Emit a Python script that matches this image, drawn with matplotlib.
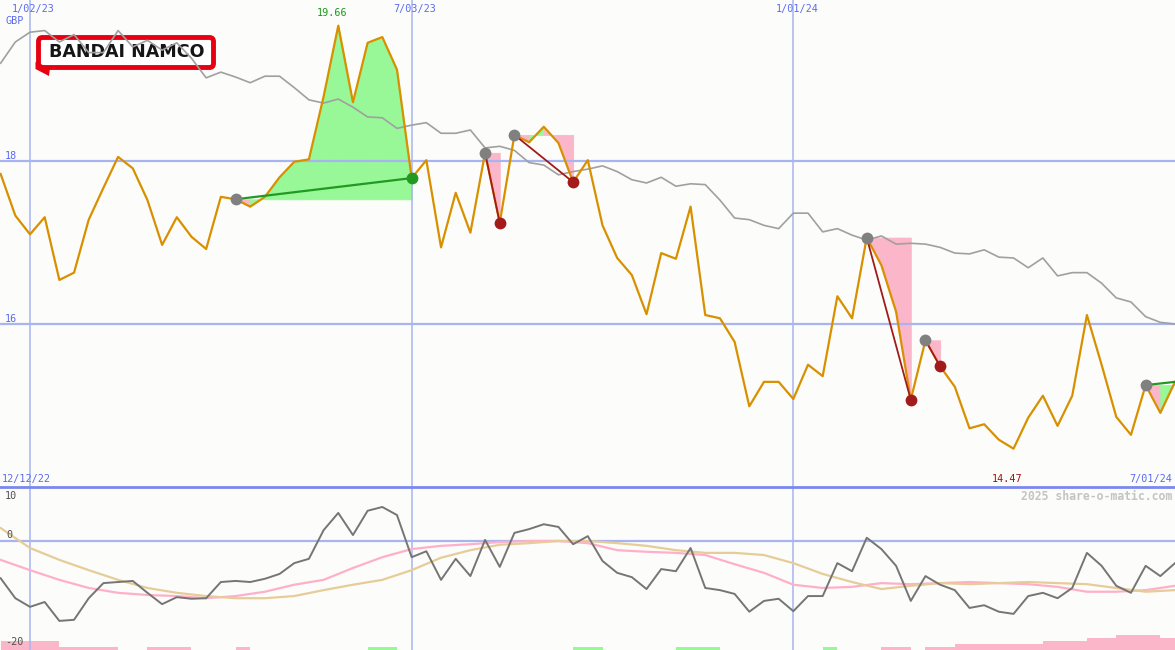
import numpy as np
import matplotlib
matplotlib.use('Agg')
import matplotlib.pyplot as plt
from matplotlib.patches import FancyBboxPatch, Polygon
from matplotlib.transforms import blended_transform_factory

# weekly points, week 0 = Mon 2 Jan 2023
weeks = np.arange(-2, 79)

close = [17.84, 17.33, 17.10, 17.31, 16.54, 16.63, 17.28, 17.67, 18.05, 17.91,
         17.52, 16.97, 17.31, 17.07, 16.92, 17.56, 17.53, 17.44, 17.56, 17.80,
         17.99, 18.02, 18.79, 19.66, 18.72, 19.45, 19.52, 19.12, 17.79, 18.01,
         16.94, 17.61, 17.12, 18.10, 17.24, 18.32, 18.23, 18.42, 18.22, 17.74,
         18.01, 17.21, 16.81, 16.60, 16.12, 16.87, 16.80, 17.44, 16.11, 16.07,
         15.78, 14.99, 15.29, 15.29, 15.08, 15.50, 15.36, 16.34, 16.07, 17.06,
         16.72, 16.15, 15.07, 15.80, 15.48, 15.23, 14.72, 14.77, 14.58, 14.47,
         14.85, 15.12, 14.75, 15.12, 16.11, 15.50, 14.86, 14.64, 15.25, 14.91,
         15.29]

avg = [19.20, 19.46, 19.58, 19.60, 19.46, 19.55, 19.33, 19.33, 19.60, 19.40,
       19.48, 19.36, 19.45, 19.26, 19.02, 19.09, 19.03, 18.96, 19.04, 19.04,
       18.90, 18.75, 18.71, 18.76, 18.66, 18.54, 18.53, 18.40, 18.44, 18.47,
       18.34, 18.34, 18.38, 18.16, 18.18, 18.13, 17.98, 17.95, 17.83, 17.87,
       17.90, 17.94, 17.87, 17.77, 17.73, 17.80, 17.69, 17.72, 17.71, 17.52,
       17.30, 17.28, 17.21, 17.17, 17.36, 17.36, 17.13, 17.17, 17.09, 17.03,
       17.08, 16.98, 16.99, 16.98, 16.94, 16.87, 16.86, 16.91, 16.82, 16.81,
       16.69, 16.81, 16.59, 16.63, 16.63, 16.50, 16.32, 16.27, 16.09, 16.02,
       16.00]

osc = [-6.9, -10.6, -12.2, -11.3, -14.8, -14.6, -10.6, -7.8, -7.6, -7.4,
       -9.6, -11.7, -10.4, -10.7, -10.6, -7.6, -7.4, -7.6, -7.0, -6.1,
       -4.1, -3.3, 2.0, 5.2, 1.1, 5.6, 6.3, 4.8, -3.0, -1.9,
       -7.2, -3.3, -6.5, 0.2, -4.8, 1.5, 2.2, 3.1, 2.6, -0.6,
       0.9, -3.7, -5.9, -6.7, -8.9, -5.2, -5.6, -1.3, -8.7, -9.1,
       -9.8, -13.1, -11.1, -10.7, -13.0, -10.2, -10.2, -4.1, -5.6, 0.6,
       -1.5, -4.6, -11.1, -6.5, -8.1, -9.1, -12.4, -11.9, -13.1, -13.5,
       -10.2, -9.6, -10.6, -8.7, -2.2, -4.6, -8.3, -9.6, -4.6, -6.5,
       -4.1]

# slower lines of the lower panel, read every second week
weeks2 = np.arange(-2, 79, 2)
osc_fast = [-3.5, -5.4, -7.2, -8.7, -9.6, -10.0, -10.2, -10.6, -10.2, -9.4,
            -8.1, -7.2, -5.0, -3.0, -1.5, -0.9, -0.6, -0.2, 0.0, 0.0,
            -0.4, -1.7, -2.0, -2.2, -2.6, -4.3, -5.9, -8.1, -8.7, -8.5,
            -7.8, -8.0, -7.8, -7.6, -7.8, -8.0, -8.5, -9.4, -9.4, -9.1,
            -8.3]
osc_slow = [2.4, -1.3, -3.5, -5.4, -7.2, -8.7, -9.6, -10.2, -10.6, -10.6,
            -10.2, -9.1, -8.1, -7.2, -5.4, -3.1, -1.7, -0.7, -0.4, 0.0,
            0.0, -0.4, -0.9, -1.7, -2.2, -2.2, -2.6, -4.1, -6.1, -7.6,
            -8.9, -8.3, -7.8, -8.0, -7.8, -7.6, -7.8, -8.0, -8.7, -9.4,
            -9.1]

# weekly bars along the bottom (positive green, negative pink)
bars = [-1.67, -1.67, -1.67, -1.67, -0.55, -0.55, -0.55, -0.55, 0, 0,
        -0.55, -0.55, -0.55, 0, 0, 0, -0.55, 0, 0, 0,
        0, 0, 0, 0, 0, 0.55, 0.55, 0, 0, 0,
        0, 0, 0, 0, 0, 0, 0, 0, 0, 0.55,
        0.55, 0, 0, 0, 0, 0, 0.55, 0.55, 0.55, 0,
        0, 0, 0, 0, 0, 0, 0.55, 0, 0, 0,
        -0.55, -0.55, 0, -0.55, -0.55, -1.1, -1.1, -1.1, -1.1, -1.1,
        -1.1, -1.67, -1.67, -1.67, -2.2, -2.2, -2.8, -2.8, -2.8, -2.2]

# trend signals (start week, end week, direction, finished)
sig_start = [14, 31, 33, 57, 61, 76]
sig_end = [26, 32, 37, 60, 62, 78]
sig_up = [True, False, False, False, False, True]
sig_done = [True, True, True, True, True, False]

grid_weeks = [0, 26, 52]
grid_labels = ['1/02/23', '7/03/23', '1/01/24']

bg = '#fcfdfa'
blue_txt = '#5a6af0'
grid_col = '#a8b4f0'
orange = '#d99000'
pink_fill = '#fbb6c9'
green_fill = '#98f898'
dk_red = '#a31a1a'
dk_green = '#229a22'
mono = 'DejaVu Sans Mono'

fig = plt.figure(figsize=(11.75, 6.5), dpi=100, facecolor=bg)

# logo layer, under the chart lines
ov = fig.add_axes([0, 0, 1, 1], zorder=0)
ov.set_xlim(0, 1175)
ov.set_ylim(650, 0)
ov.axis('off')

ax = fig.add_axes([0, 163 / 650, 1, 487 / 650], zorder=1)
ax2 = fig.add_axes([0, 0, 1, 163 / 650], zorder=1)
for a in (ax, ax2):
    a.patch.set_alpha(0)
    for sp in a.spines.values():
        sp.set_visible(False)
    a.set_xticks([])
    a.set_yticks([])
    a.set_xlim(-2.044, 78.0)
    for w in grid_weeks:
        a.axvline(w, color=grid_col, lw=1.1, zorder=1.5)
ax.set_ylim(14.0, 19.975)
ax2.set_ylim(-20.19, 10.0)

# text layer, over everything
top = fig.add_axes([0, 0, 1, 1], zorder=3)
top.set_xlim(0, 1175)
top.set_ylim(650, 0)
top.axis('off')

# logo
ov.add_patch(FancyBboxPatch((38.5, 37.5), 175, 30,
                            boxstyle='round,pad=0,rounding_size=4',
                            fc='white', ec='#e60012', lw=3.5))
ov.add_patch(Polygon([(35.5, 62), (35.5, 69), (49, 76), (50, 68)],
                     closed=True, fc='#e60012', ec='none'))
ov.text(126.5, 52, 'BANDAI NAMCO', ha='center', va='center', fontsize=12.6,
        fontweight='bold', family='DejaVu Sans', color='#151515')

# upper panel
for lvl in (18, 16):
    ax.axhline(lvl, color=grid_col, lw=1.6, zorder=1.5)

close_a = np.array(close)
for s, e, up, done in zip(sig_start, sig_end, sig_up, sig_done):
    i0, i1 = s + 2, e + 2
    lvl = close_a[i0]
    for i in range(i0, i1):
        col = green_fill if close_a[i + 1] >= lvl else pink_fill
        ax.fill_between(weeks[i:i + 2], close_a[i:i + 2], lvl, fc=col, ec=col,
                        lw=0.6, zorder=1)
    ax.plot([s, e], [close_a[i0], close_a[i1]], color=dk_green if up else dk_red,
            lw=1.6 if up else 1.3, zorder=4)

ax.plot(weeks, avg, color='#a0a0a0', lw=1.2, zorder=2)
ax.plot(weeks, close, color=orange, lw=1.6, zorder=3)

for s, e, up, done in zip(sig_start, sig_end, sig_up, sig_done):
    ax.plot(s, close_a[s + 2], 'o', color='#808080', ms=8.5, mec='none', zorder=5)
    if done:
        ax.plot(e, close_a[e + 2], 'o', color=dk_green if up else dk_red,
                ms=8.5, mec='none', zorder=5)

i_max = int(np.argmax(close_a))
i_min = int(np.argmin(close_a))
ax.annotate(f'{close_a[i_max]:.2f}', xy=(weeks[i_max], close_a[i_max]),
            xytext=(-6, 8), textcoords='offset pixels', ha='center',
            va='bottom', fontsize=7.3, family=mono, color='#1a9a1a')
tr = blended_transform_factory(ax.transData, ax.transAxes)
ax.text(weeks[i_min] - 0.45, 8 / 487, f'{close_a[i_min]:.2f}', transform=tr,
        ha='center', va='center', fontsize=7.3, family=mono, color='#a01010')
for w, lab in zip(grid_weeks, grid_labels):
    ax.text(w + 0.24, 1 - 9 / 487, lab, transform=tr, ha='center', va='center',
            fontsize=7.3, family=mono, color=blue_txt)

top.text(5, 21, 'GBP', ha='left', va='center', fontsize=7.3, family=mono, color=blue_txt)
top.text(5, 156, '18', ha='left', va='center', fontsize=7.3, family=mono, color=blue_txt)
top.text(5, 319, '16', ha='left', va='center', fontsize=7.3, family=mono, color=blue_txt)
top.text(2, 479, '12/12/22', ha='left', va='center', fontsize=7.3, family=mono, color=blue_txt)
top.text(1172, 479, '7/01/24', ha='right', va='center', fontsize=7.3, family=mono, color=blue_txt)
top.text(1172, 496, '2025 share-o-matic.com', ha='right', va='center', fontsize=8.3,
         family=mono, fontweight='bold', color='#c4c4c4')
top.text(5, 496, '10', ha='left', va='center', fontsize=7.3, family=mono, color='#505050')
top.text(6, 535, '0', ha='left', va='center', fontsize=7.3, family=mono, color='#505050')
top.text(5, 642, '-20', ha='left', va='center', fontsize=7.3, family=mono, color='#505050')

# lower panel
ax2.axhline(0, color=grid_col, lw=1.6, zorder=1.5)
bars_a = np.array(bars)
ax2.bar(weeks[:-1], np.abs(bars_a), width=1.0, align='edge', bottom=-20.19,
        color=[green_fill if b > 0 else pink_fill for b in bars_a], lw=0, zorder=1)
ax2.plot(weeks2, osc_fast, color='#ffb0c8', lw=1.6, zorder=2)
ax2.plot(weeks2, osc_slow, color='#e6cc99', lw=1.6, zorder=2.2)
ax2.plot(weeks, osc, color='#757575', lw=1.4, zorder=3)

# separator between panels
top.axhline(487, color='#7b88ee', lw=2.0)

fig.savefig('out.png', dpi=100, facecolor=bg)
